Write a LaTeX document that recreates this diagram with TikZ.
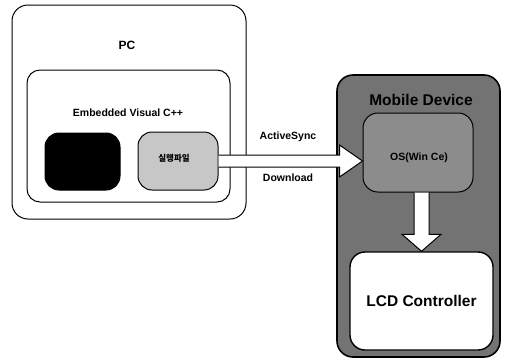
\documentclass[tikz,border=0pt]{standalone}
\usepackage{fontspec}
\setmainfont{Liberation Sans}
\newfontfamily\kr{Noto Sans CJK KR}
\usetikzlibrary{calc}
\begin{document}
\begin{tikzpicture}[x=1pt,y=-1pt,
  box/.style={draw=black, line width=1pt, rounded corners=13pt, inner sep=0pt},
  lbl/.style={font=\fontsize{10.5}{12}\selectfont\bfseries, inner sep=0pt},
  blockarrow/.style={draw=black, line width=1pt, fill=white, line join=miter}]
\useasboundingbox (0,0) rectangle (505,362);
% PC side
\node[box, minimum width=234pt, minimum height=214pt, rounded corners=16pt] (pc) at (129,112) {};
\node[lbl, font=\fontsize{12}{14}\selectfont\bfseries] (pclbl) at (127,45) {PC};
\node[box, minimum width=203pt, minimum height=132pt] (evc) at (128.5,136) {};
\node[lbl] (evclbl) at (128,113) {Embedded Visual C++};
\node[box, fill=black, minimum width=75pt, minimum height=57pt, rounded corners=14pt] (blk) at (82.5,161.5) {};
\node[box, fill=black!22, minimum width=80pt, minimum height=58pt, rounded corners=14pt] (exe) at (178,161) {};
\node[inner sep=0pt, font=\kr\fontsize{8.5}{10}\selectfont\bfseries] (exelbl) at (174,158) {실행파일};
% Mobile side
\node[box, line width=1.6pt, fill=black!55, minimum width=163pt, minimum height=282pt, rounded corners=16pt] (mob) at (418.5,216) {};
\node[inner sep=0pt, font=\fontsize{15.5}{18}\selectfont\bfseries] (moblbl) at (421,100) {Mobile Device};
\node[box, fill=black!45, minimum width=110pt, minimum height=79pt, rounded corners=15pt] (os) at (418,152.5) {};
\node[lbl] (oslbl) at (419,158) {OS(Win Ce)};
\node[box, line width=1.4pt, fill=white, minimum width=143pt, minimum height=98pt, rounded corners=15pt] (lcd) at (421.5,301) {};
\node[inner sep=0pt, font=\fontsize{15.5}{18}\selectfont\bfseries] (lcdlbl) at (421.5,301) {LCD Controller};
% Labels
\node[lbl] (as) at (288,137) {ActiveSync};
\node[lbl] (dl) at (288,178) {Download};
% Right block arrow
\coordinate (rs) at (exe.east);
\coordinate (rt) at (os.west |- exe.east);
\draw[blockarrow] ($(rs)+(0,-6)$) -- ($(rt)+(-23,-6)$) -- ($(rt)+(-23,-16)$) -- (rt)
  -- ($(rt)+(-23,16)$) -- ($(rt)+(-23,6)$) -- ($(rs)+(0,6)$);
% Down block arrow
\coordinate (dt) at (lcd.north);
\coordinate (ds) at (lcd.north |- os.south);
\draw[blockarrow] ($(ds)+(-7.5,0)$) -- ($(dt)+(-7.5,-17)$) -- ($(dt)+(-19.5,-17)$) -- (dt)
  -- ($(dt)+(19.5,-17)$) -- ($(dt)+(7.5,-17)$) -- ($(ds)+(7.5,0)$);
\end{tikzpicture}
\end{document}
